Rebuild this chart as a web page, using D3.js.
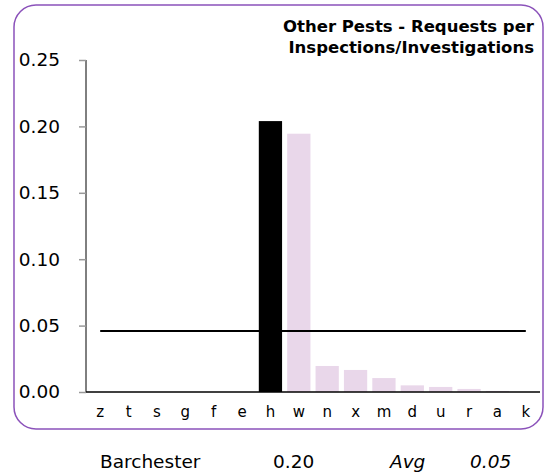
<!DOCTYPE html>
<html>
<head>
<meta charset="utf-8">
<script src="https://cdn.jsdelivr.net/npm/d3@7"></script>
<style>
  body { margin: 0; background: #fff; }
  svg text { font-family: Verdana, "DejaVu Sans", sans-serif; fill: #000; }
</style>
</head>
<body>
<div id="chart"></div>
<script>
// chart values
const categories = ["z", "t", "s", "g", "f", "e", "h", "w", "n", "x", "m", "d", "u", "r", "a", "k"];
const values = [0, 0, 0, 0, 0, 0, 0.204, 0.1945, 0.0196, 0.0166, 0.0105, 0.005, 0.0038, 0.0023, 0.0008, 0];
const highlight = "h";
const areaName = "Barchester";
const average = 0.046;
const yTicks = [0, 0.05, 0.10, 0.15, 0.20, 0.25];
const titleLines = ["Other Pests - Requests per", "Inspections/Investigations"];

const width = 545, height = 474;
const svg = d3.select("#chart").append("svg")
    .attr("width", width)
    .attr("height", height);

// rounded frame
svg.append("rect")
    .attr("x", 14).attr("y", 5)
    .attr("width", 529).attr("height", 424)
    .attr("rx", 22).attr("ry", 22)
    .attr("fill", "none")
    .attr("stroke", "#8b52ba")
    .attr("stroke-width", 1.5);

let x = d3.scaleBand()
    .domain(categories)
    .range([86, 540])
    .paddingInner(0.18)
    .paddingOuter(0.09);

let y = d3.scaleLinear()
    .domain([0, 0.25])
    .range([392, 60]);

// bars
svg.selectAll("rect.bar").data(categories)
    .enter().append("rect")
    .attr("class", "bar")
    .attr("x", d => x(d))
    .attr("width", x.bandwidth())
    .attr("y", (d, i) => y(values[i]))
    .attr("height", (d, i) => y(0) - y(values[i]))
    .attr("fill", d => d == highlight ? "#000" : "#e9d7ea");

// y axis
let yAxis = svg.append("g")
    .attr("transform", "translate(86,0)")
    .call(d3.axisLeft(y).tickValues(yTicks).tickFormat(d3.format(".2f")).tickSize(7).tickPadding(19));
yAxis.select(".domain").attr("stroke", "#000").attr("d", "M0,60V392");
yAxis.selectAll(".tick line").attr("stroke", "#999").attr("stroke-width", 1.5);
yAxis.selectAll(".tick text").style("font-size", "18.5px");

// x axis
let xAxis = svg.append("g")
    .attr("transform", "translate(0,392)")
    .call(d3.axisBottom(x).tickSize(0).tickPadding(14));
xAxis.select(".domain").attr("stroke", "#000").attr("stroke-width", 1.5).attr("d", "M86,0H540");
xAxis.selectAll(".tick text").style("font-size", "15px");

// average line
svg.append("line")
    .attr("x1", x(categories[0]) + x.bandwidth() / 2)
    .attr("x2", x(categories[categories.length - 1]) + x.bandwidth() / 2)
    .attr("y1", y(average)).attr("y2", y(average))
    .attr("stroke", "#000")
    .attr("stroke-width", 2);

// title
svg.append("text")
    .attr("text-anchor", "end")
    .style("font-size", "16.5px")
    .style("font-weight", "bold")
    .selectAll("tspan").data(titleLines)
    .enter().append("tspan")
    .attr("x", 534)
    .attr("y", (d, i) => 32 + i * 21)
    .text(d => d);

// summary row under the chart
let fmt = d3.format(".2f");
let summary = [
    {text: areaName, x: 100, italic: false},
    {text: fmt(values[categories.indexOf(highlight)]), x: 273, italic: false},
    {text: "Avg", x: 390, italic: true},
    {text: fmt(average), x: 470, italic: true}
];
svg.selectAll("text.summary").data(summary)
    .enter().append("text")
    .attr("class", "summary")
    .attr("x", d => d.x)
    .attr("y", 468)
    .style("font-size", "18.5px")
    .style("font-style", d => d.italic ? "italic" : "normal")
    .text(d => d.text);
</script>
</body>
</html>
